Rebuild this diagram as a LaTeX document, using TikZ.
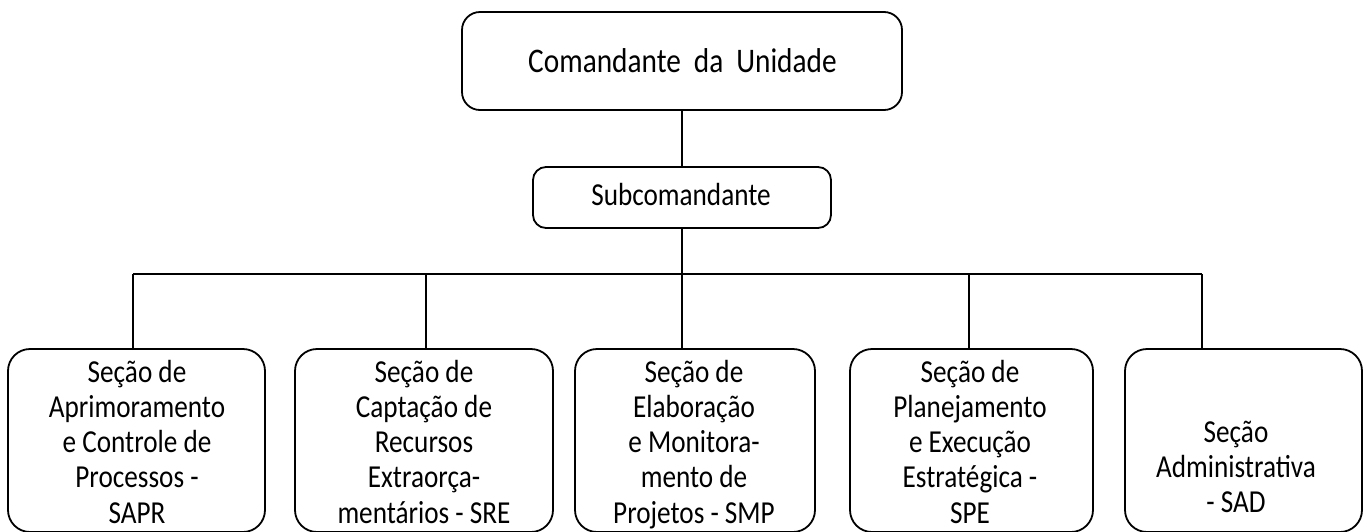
\documentclass[tikz,border=0pt]{standalone}
\usepackage{fontspec}
\setmainfont[FakeStretch=0.85]{Carlito}
\newcommand{\topfont}{\fontsize{34.5}{38}\selectfont\spaceskip=13pt\relax}
\begin{document}
\begin{tikzpicture}[x=1pt,y=-1pt,
  box/.style={draw=black,line width=1.8pt,rounded corners=#1,inner sep=0pt,fill=white},
  box/.default=22pt,
  lbl/.style={align=center,font=\fontsize{32}{35.2}\selectfont,inner sep=0pt},
  conn/.style={draw=black,line width=1.8pt}]
\useasboundingbox[fill=white] (0,0) rectangle (1367,531);
% top boxes
\node[box=18pt,minimum width=440pt,minimum height=98pt] (top) at (682,61) {};
\node[lbl,anchor=base,font=\topfont] (toptxt) at (682.5,72) {Comandante da Unidade};
\node[box=13pt,minimum width=298pt,minimum height=61pt] (sub) at (682,197.5) {};
\node[lbl,anchor=base] (subtxt) at (681,205) {Subcomandante};
% bottom boxes
\node[box,minimum width=257pt,minimum height=183pt] (b1) at (136.5,440.5) {};
\node[box,minimum width=258pt,minimum height=183pt] (b2) at (424,440.5) {};
\node[box,minimum width=240pt,minimum height=183pt] (b3) at (695,440.5) {};
\node[box,minimum width=243pt,minimum height=183pt] (b4) at (971.5,440.5) {};
\node[box,minimum width=237pt,minimum height=183pt] (b5) at (1243.5,440.5) {};
\node[lbl,anchor=north] (t1) at (137,357.4) {\strut Seção de\\Aprimoramento\\e Controle de\\Processos -\\SAPR};
\node[lbl,anchor=north] (t2) at (424,357.4) {\strut Seção de\\Captação de\\Recursos\\Extraorça-\\mentários - SRE};
\node[lbl,anchor=north] (t3) at (694,357.4) {\strut Seção de\\Elaboração\\e Monitora-\\mento de\\Projetos - SMP};
\node[lbl,anchor=north] (t4) at (970,357.4) {\strut Seção de\\Planejamento\\e Execução\\Estratégica -\\SPE};
\node[lbl,anchor=north] (t5) at (1236,417.4) {\strut Seção\\Administrativa\\- SAD};
% connectors
\coordinate (d1) at (133,274);
\coordinate (d2) at (426,274);
\coordinate (d3) at (682,274);
\coordinate (d4) at (969,274);
\coordinate (d5) at (1202,274);
\draw[conn] (top.south) -- (sub.north);
\draw[conn] (sub.south) -- (sub.south |- d3);
\draw[conn] (d1) -- (d5);
\draw[conn] (d1) -- (d1 |- b1.north);
\draw[conn] (d2) -- (d2 |- b2.north);
\draw[conn] (d3) -- (d3 |- b3.north);
\draw[conn] (d4) -- (d4 |- b4.north);
\draw[conn] (d5) -- (d5 |- b5.north);
\end{tikzpicture}
\end{document}
